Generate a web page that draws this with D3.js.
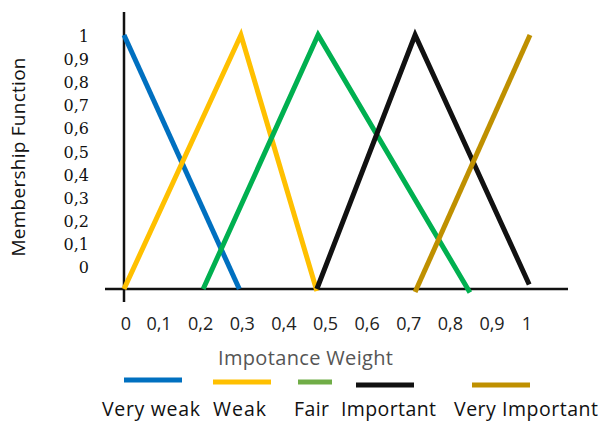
<!DOCTYPE html>
<html>
<head>
<meta charset="utf-8">
<script src="https://cdn.jsdelivr.net/npm/d3@7"></script>
<style>
  html, body { margin: 0; padding: 0; background: #fff; }
  svg { display: block; }
</style>
</head>
<body>
<svg id="chart" width="605" height="423"></svg>
<script>
// ---- data ----
const categories = ["Very weak", "Weak", "Fair", "Important", "Very Important"];
const veryWeak = [[0, 1], [0.284, 0]];
const weak = [[0, 0], [0.288, 1], [0.475, -0.008]];
const fair = [[0.195, 0], [0.478, 1], [0.852, -0.014]];
const important = [[0.475, 0], [0.717, 1], [0.998, 0.018]];
const veryImportant = [[0.717, -0.012], [1, 1]];
const seriesValues = [veryWeak, weak, fair, important, veryImportant];
const xTickValues = [0, 0.1, 0.2, 0.3, 0.4, 0.5, 0.6, 0.7, 0.8, 0.9, 1];
const xTickLabels = ["0", "0,1", "0,2", "0,3", "0,4", "0,5", "0,6", "0,7", "0,8", "0,9", "1"];
const yTickValues = [1, 0.9, 0.8, 0.7, 0.6, 0.5, 0.4, 0.3, 0.2, 0.1, 0];
const yTickLabels = ["1", "0,9", "0,8", "0,7", "0,6", "0,5", "0,4", "0,3", "0,2", "0,1", "0"];
const xTitle = "Impotance Weight";
const yTitle = "Membership Function";

// ---- styles ----
const lineColors = ["#0070C0", "#FFC000", "#00B050", "#111111", "#BF9000"];
const legendColors = ["#0070C0", "#FFC000", "#70AD47", "#111111", "#BF9000"];

const svg = d3.select("#chart");

const x = d3.scaleLinear().domain([0, 1]).range([124, 530]);
const y = d3.scaleLinear().domain([0, 1]).range([289, 35]);
// label placement scales (labels in the source sit on their own grid)
const xLab = d3.scaleLinear().domain([0, 0.1, 0.9, 1]).range([126, 159, 492, 527]);
const yLab = d3.scaleLinear().domain([0, 1]).range([273, 42]);

// axes lines
svg.append("line")
  .attr("x1", x(0)).attr("x2", x(0))
  .attr("y1", 12).attr("y2", 302)
  .attr("stroke", "#111").attr("stroke-width", 2.5);
svg.append("line")
  .attr("x1", 105).attr("x2", 568)
  .attr("y1", y(0)).attr("y2", y(0))
  .attr("stroke", "#111").attr("stroke-width", 2.5);

// series lines
const line = d3.line().x(d => x(d[0])).y(d => y(d[1]));
svg.append("g").selectAll("path")
  .data(seriesValues)
  .join("path")
  .attr("d", line)
  .attr("fill", "none")
  .attr("stroke", (d, i) => lineColors[i])
  .attr("stroke-width", 5)
  .attr("stroke-linecap", "butt")
  .attr("stroke-linejoin", "miter");

// y tick labels
svg.append("g").selectAll("text")
  .data(yTickValues)
  .join("text")
  .attr("x", 89)
  .attr("y", d => yLab(d))
  .attr("text-anchor", "end")
  .attr("font-family", "DejaVu Serif")
  .attr("font-size", 16)
  .attr("fill", "#111")
  .text((d, i) => yTickLabels[i]);

// x tick labels
svg.append("g").selectAll("text")
  .data(xTickValues)
  .join("text")
  .attr("x", d => xLab(d))
  .attr("y", 330)
  .attr("text-anchor", "middle")
  .attr("font-family", "Open Sans")
  .attr("font-size", 18)
  .attr("fill", "#222")
  .text((d, i) => xTickLabels[i]);

// axis titles
svg.append("text")
  .attr("x", 218).attr("y", 365)
  .attr("font-family", "Open Sans")
  .attr("font-size", 20)
  .attr("fill", "#555")
  .attr("textLength", 175)
  .attr("lengthAdjust", "spacing")
  .text(xTitle);

svg.append("text")
  .attr("transform", "translate(25,157) rotate(-90)")
  .attr("text-anchor", "middle")
  .attr("font-family", "Open Sans")
  .attr("font-size", 19)
  .attr("fill", "#111")
  .attr("textLength", 199)
  .attr("lengthAdjust", "spacing")
  .text(yTitle);

// legend
const legendLayout = [
  { x1: 124, x2: 182, ly: 380, tx: 102, w: 98 },
  { x1: 213, x2: 271, ly: 382, tx: 213, w: 53 },
  { x1: 298, x2: 332, ly: 382, tx: 294, w: 35 },
  { x1: 356, x2: 414, ly: 385, tx: 341, w: 95 },
  { x1: 472, x2: 530, ly: 385, tx: 454, w: 144 }
];
const lg = svg.append("g");
lg.selectAll("line")
  .data(categories)
  .join("line")
  .attr("x1", (d, i) => legendLayout[i].x1)
  .attr("x2", (d, i) => legendLayout[i].x2)
  .attr("y1", (d, i) => legendLayout[i].ly)
  .attr("y2", (d, i) => legendLayout[i].ly)
  .attr("stroke", (d, i) => legendColors[i])
  .attr("stroke-width", 5);
lg.selectAll("text")
  .data(categories)
  .join("text")
  .attr("x", (d, i) => legendLayout[i].tx)
  .attr("y", 416)
  .attr("font-family", "Open Sans")
  .attr("font-size", 19.5)
  .attr("fill", "#111")
  .attr("textLength", (d, i) => legendLayout[i].w)
  .attr("lengthAdjust", "spacing")
  .text(d => d);
</script>
</body>
</html>
